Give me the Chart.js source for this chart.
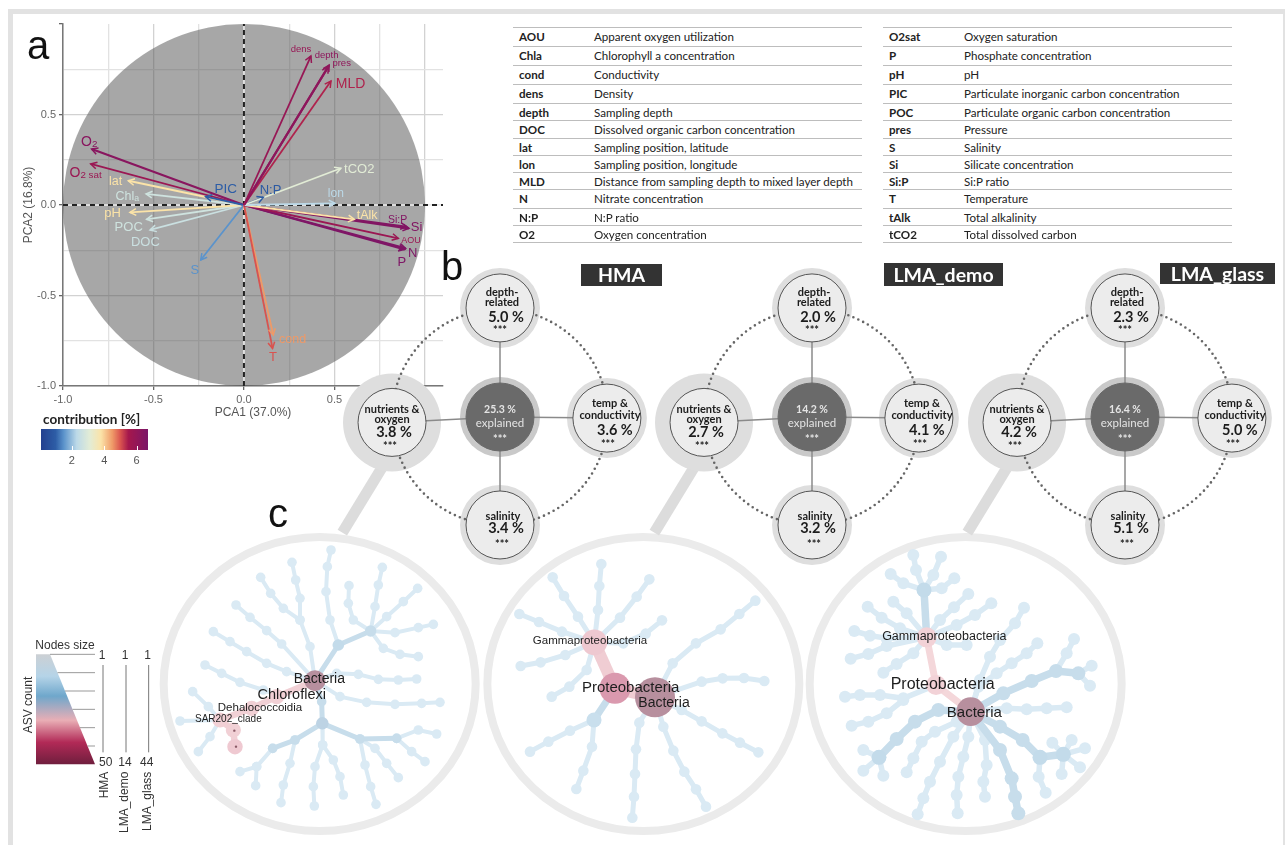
<!DOCTYPE html>
<html>
<head>
<meta charset="utf-8">
<title>PCA and ASV networks</title>
<script src="https://cdn.jsdelivr.net/npm/chart.js@4"></script>
<style>
    html, body { margin: 0; background: #fff; }
    body { position: relative; width: 1285px; height: 845px; overflow: hidden; font-family: Lato, sans-serif; color: #222; }
    canvas, .abs { position: absolute; }
    .frame { background: #e2e2e2; }
    .letter { font-family: "Liberation Sans", sans-serif; font-size: 40px; line-height: 40px; color: #111; }
    .tag { background: #333; color: #fff; font-weight: 700; font-size: 19.5px; text-align: center; }
    .row { border-top: 1.5px solid #bdbdbd; font-size: 11.6px; white-space: nowrap; }
    .row b, .row span { position: absolute; top: 0; line-height: 17px; }
    .row b { left: 6px; }
    .row span { left: 81px; }
</style>
</head>
<body>
<div class="abs frame" style="left:8px;top:9px;width:1277px;height:5px"></div>
<div class="abs frame" style="left:8px;top:9px;width:5px;height:836px"></div>
<div class="abs frame" style="left:1283px;top:9px;width:2px;height:836px"></div>

<canvas id="pcaChart" width="450" height="430" style="left:0;top:0"></canvas>
<canvas id="hmaTree" width="480" height="325" style="left:0;top:520px"></canvas>
<canvas id="demoTree" width="330" height="325" style="left:480px;top:520px"></canvas>
<canvas id="glassTree" width="330" height="325" style="left:800px;top:520px"></canvas>
<canvas id="hmaNet" width="330" height="330" style="left:335px;top:252px"></canvas>
<canvas id="demoNet" width="330" height="330" style="left:647px;top:252px"></canvas>
<canvas id="glassNet" width="330" height="330" style="left:960px;top:252px"></canvas>

<div class="abs letter" style="left:27px;top:25px">a</div>
<div class="abs letter" style="left:441px;top:246px">b</div>
<div class="abs letter" style="left:268px;top:493px">c</div>

<div class="abs tag" style="left:581px;top:264px;width:81px;height:22px;line-height:22px">HMA</div>
<div class="abs tag" style="left:884px;top:263px;width:119px;height:23px;line-height:23px">LMA_demo</div>
<div class="abs tag" style="left:1160px;top:263px;width:115px;height:21px;line-height:21px">LMA_glass</div>

<div class="abs" style="left:43px;top:410px;font-size:13.5px;font-weight:700;line-height:18px">contribution [%]</div>
<div class="abs" id="contribBar" style="left:41px;top:429px;width:107px;height:21px"></div>
<div id="contribTicks"></div>
<div id="glossary"></div>

<script>
// panel a, loadings
const pcaVars = ['dens', 'depth', 'pres', 'MLD', 'tCO2', 'lon', 'tAlk', 'Si:P', 'Si', 'AOU', 'N', 'P', 'T', 'cond', 'S', 'PIC', 'N:P', 'O2', 'O2sat', 'lat', 'Chla', 'pH', 'POC', 'DOC'];
const pca1 = [0.37, 0.471, 0.466, 0.481, 0.536, 0.503, 0.61, 0.899, 0.912, 0.853, 0.893, 0.889, 0.158, 0.162, -0.239, -0.212, 0.107, -0.842, -0.847, -0.639, -0.541, -0.63, -0.538, -0.519];
const pca2 = [0.823, 0.773, 0.764, 0.685, 0.203, 0.009, -0.079, -0.12, -0.129, -0.184, -0.239, -0.245, -0.792, -0.718, -0.304, 0.046, 0.042, 0.309, 0.227, 0.134, 0.061, -0.041, -0.079, -0.138];
const contribution = [5.9, 6.2, 6.1, 5.4, 3.1, 2.3, 3.8, 6.5, 6.5, 5.8, 6.6, 6.6, 5.0, 4.5, 1.5, 1.0, 0.9, 6.3, 5.8, 3.8, 2.7, 3.8, 2.7, 2.6];
const pcaTicks = [-1, -0.75, -0.5, -0.25, 0, 0.25, 0.5, 0.75, 1];
const contribTicks = [2, 4, 6];

// glossary
const leftTerms = ['AOU', 'Chla', 'cond', 'dens', 'depth', 'DOC', 'lat', 'lon', 'MLD', 'N', 'N:P', 'O2'];
const leftNames = ['Apparent oxygen utilization', 'Chlorophyll a concentration', 'Conductivity', 'Density', 'Sampling depth', 'Dissolved organic carbon concentration', 'Sampling position, latitude', 'Sampling position, longitude', 'Distance from sampling depth to mixed layer depth', 'Nitrate concentration', 'N:P ratio', 'Oxygen concentration'];
const rightTerms = ['O2sat', 'P', 'pH', 'PIC', 'POC', 'pres', 'S', 'Si', 'Si:P', 'T', 'tAlk', 'tCO2'];
const rightNames = ['Oxygen saturation', 'Phosphate concentration', 'pH', 'Particulate inorganic carbon concentration', 'Particulate organic carbon concentration', 'Pressure', 'Salinity', 'Silicate concentration', 'Si:P ratio', 'Temperature', 'Total alkalinity', 'Total dissolved carbon'];

// panel b, order is top, left, centre, right, bottom
const nodeNames = ['depth-\nrelated', 'nutrients &\noxygen', 'explained', 'temp &\nconductivity', 'salinity'];
const hmaPercent = ['5.0', '3.8', '25.3', '3.6', '3.4'];
const demoPercent = ['2.0', '2.7', '14.2', '4.1', '3.2'];
const glassPercent = ['2.3', '4.2', '16.4', '5.0', '5.1'];
const nodeX = [0, -1, 0, 0.99, 0];
const nodeY = [1.01, -0.05, 0, -0.01, -1];

// panel c, branches are polylines on the picture grid, hubs are [x, y, ASV count]
const hmaBranches = [
    [[1112, 333], [1125, 260], [1135, 195], [1147, 142]],
    [[1112, 333], [1060, 300], [1045, 250], [1047, 197]],
    [[1112, 333], [1160, 290], [1210, 245], [1253, 205]],
    [[1112, 333], [1185, 338], [1255, 323], [1300, 313]],
    [[1112, 333], [1150, 385], [1200, 403], [1255, 410]],
    [[1015, 375], [990, 300], [978, 215], [982, 140], [993, 90]],
    [[945, 482], [930, 380], [900, 300], [850, 265], [812, 220], [782, 172]],
    [[900, 300], [900, 235], [887, 180], [876, 127]],
    [[945, 482], [845, 372], [800, 332], [750, 292], [708, 255]],
    [[945, 482], [860, 455], [800, 430], [740, 395], [690, 365], [640, 335]],
    [[830, 525], [790, 510], [720, 487], [665, 460], [615, 435]],
    [[660, 600], [625, 560], [578, 515]],
    [[660, 600], [540, 603]],
    [[660, 600], [630, 650], [595, 695]],
    [[945, 482], [1010, 460], [1075, 463], [1135, 478], [1195, 480], [1250, 477]],
    [[945, 482], [1020, 530], [1100, 547], [1185, 553], [1265, 550], [1320, 547]],
    [[818, 685], [770, 740], [720, 755]],
    [[770, 740], [767, 797]],
    [[885, 660], [870, 730], [850, 795], [843, 848]],
    [[967, 610], [968, 675], [945, 740], [940, 800], [943, 858]],
    [[968, 675], [1000, 720], [1020, 770], [1030, 825]],
    [[1190, 655], [1255, 630], [1310, 642]],
    [[1080, 657], [1095, 735], [1112, 800], [1128, 853]],
    [[1080, 657], [1125, 685], [1160, 730], [1195, 773]],
    [[1190, 655], [1235, 695], [1275, 725]]
];
const hmaThick = [
    [[945, 482], [1015, 375], [1112, 333]],
    [[945, 482], [965, 545], [967, 610]],
    [[967, 610], [885, 660], [818, 685]],
    [[967, 610], [1080, 657], [1190, 655]]
];
const hmaHighlight = [
    [[945, 482], [880, 510], [830, 530], [755, 565], [660, 600], [700, 630], [705, 680]]
];
const hmaHubs = [[945, 482, 50], [830, 530, 31], [755, 565, 31], [660, 600, 31], [700, 630, 31], [705, 680, 32], [967, 610, 20], [1015, 375, 16], [1112, 333, 15]];
const hmaTiny = [[703, 632], [708, 680]];
const hmaLabels = ['Bacteria', 'Chloroflexi', 'Dehalococcoidia', 'SAR202_clade'];
const hmaLabelX = [958, 875, 780, 685];
const hmaLabelY = [478, 525, 563, 598];

const demoBranches = [
    [[343, 367], [354, 270], [358, 198], [364, 132]],
    [[343, 367], [294, 290], [252, 228], [218, 172]],
    [[343, 367], [246, 335], [177, 306], [118, 282]],
    [[343, 367], [256, 405], [182, 427], [122, 438]],
    [[343, 367], [320, 450], [268, 500], [215, 530]],
    [[343, 367], [420, 293], [470, 230], [508, 178]],
    [[343, 367], [430, 370], [497, 341], [546, 301]],
    [[525, 532], [578, 430], [648, 370], [722, 328], [778, 282], [826, 242]],
    [[525, 532], [665, 485], [728, 475], [792, 474], [853, 483]],
    [[525, 532], [605, 570], [665, 604], [727, 640], [780, 668], [835, 697]],
    [[525, 532], [550, 620], [580, 692], [613, 755], [648, 808], [678, 860]],
    [[525, 532], [478, 608], [468, 688], [465, 762], [462, 830], [457, 893]],
    [[342, 600], [270, 632], [205, 665], [150, 695]],
    [[342, 600], [336, 680], [310, 752], [289, 807]]
];
const demoThick = [
    [[405, 505], [342, 600]]
];
const demoHighlight = [
    [[343, 367], [405, 505]],
    [[405, 505], [525, 532]]
];
const demoHubs = [[525, 532, 14], [405, 505, 11], [343, 367, 9], [342, 600, 4]];
const demoLabels = ['Gammaproteobacteria', 'Proteobacteria', 'Bacteria'];
const demoLabelX = [330, 452, 552];
const demoLabelY = [362, 505, 550];

const glassBranches = [
    [[372, 210], [348, 150], [340, 105]],
    [[372, 210], [400, 165], [423, 110]],
    [[372, 210], [310, 190], [272, 162]],
    [[372, 210], [425, 205], [463, 175]],
    [[380, 352], [320, 280], [280, 245]],
    [[380, 352], [300, 325], [245, 293], [203, 260]],
    [[380, 352], [260, 355], [210, 347], [163, 333]],
    [[380, 352], [260, 378], [205, 402], [152, 416]],
    [[380, 352], [340, 400], [290, 432], [250, 458]],
    [[380, 352], [420, 300], [462, 262], [505, 222]],
    [[380, 352], [470, 315], [525, 285], [574, 250]],
    [[380, 352], [440, 375], [500, 375]],
    [[408, 495], [310, 535], [240, 525], [180, 525], [135, 530]],
    [[310, 540], [260, 580], [205, 605], [155, 617]],
    [[512, 575], [540, 480], [570, 410], [600, 360], [645, 310], [672, 263]],
    [[512, 575], [535, 500], [590, 460], [635, 430], [680, 400], [712, 370]],
    [[768, 453], [800, 400], [822, 357]],
    [[835, 460], [875, 437]],
    [[835, 460], [870, 497]],
    [[512, 575], [620, 565], [680, 568], [740, 565], [800, 562]],
    [[790, 703], [757, 668]],
    [[790, 703], [815, 660]],
    [[790, 703], [855, 685]],
    [[790, 703], [840, 742]],
    [[790, 703], [785, 762]],
    [[720, 712], [716, 770], [737, 818]],
    [[512, 575], [555, 660], [560, 735], [550, 785], [555, 830]],
    [[512, 575], [505, 650], [490, 710], [475, 770], [470, 825], [473, 880]],
    [[512, 575], [460, 650], [420, 725], [390, 785], [370, 835], [353, 883]],
    [[470, 605], [405, 635], [365, 665], [340, 715], [320, 757]],
    [[237, 712], [190, 690]],
    [[237, 712], [190, 752]],
    [[237, 712], [250, 767]]
];
const glassThick = [
    [[380, 352], [372, 210]],
    [[512, 575], [610, 520], [695, 483], [768, 453], [835, 460]],
    [[512, 575], [600, 620], [668, 660], [720, 712], [790, 703]],
    [[512, 575], [600, 690], [635, 775], [645, 830], [655, 880]],
    [[512, 575], [415, 570], [345, 605], [290, 657], [237, 712]]
];
const glassHighlight = [
    [[380, 352], [408, 495], [512, 575]]
];
const glassHubs = [[512, 575, 44], [408, 495, 27], [380, 352, 27], [372, 210, 14], [790, 703, 14], [720, 712, 14], [237, 712, 14]];
const glassLabels = ['Gammaproteobacteria', 'Proteobacteria', 'Bacteria'];
const glassLabelX = [433, 428, 523];
const glassLabelY = [350, 495, 580];

const maxCounts = [50, 14, 44];
const sampleNames = ['HMA', 'LMA_demo', 'LMA_glass'];

// colour scales of the two legends
const contribStops = [0.1, 1, 1.5, 2.3, 3.1, 3.8, 4.5, 5, 5.5, 6.7];
const contribColors = ['#23408f', '#2d5da6', '#5b93cb', '#bcd9e8', '#e2ecd6', '#fbe3a8', '#ef9a68', '#d9534f', '#a5174c', '#7b1668'];
const sizeStops = [0, 0.2, 0.38, 0.6, 0.8, 1];
const sizeColors = ['#ccd0d4', '#b5d4e8', '#6fa7cb', '#e9aeb5', '#b22a57', '#6f1e3d'];

function hexToRgb(hex) {
    return [1, 3, 5].map(function (i) { return parseInt(hex.substr(i, 2), 16); });
}

function pickColor(stops, colors, value, whiten) {
    let i = 0;
    while (i < stops.length - 2 && value > stops[i + 1]) {
        i++;
    }
    const t = Math.min(1, Math.max(0, (value - stops[i]) / (stops[i + 1] - stops[i])));
    const a = hexToRgb(colors[i]);
    const b = hexToRgb(colors[i + 1]);
    const rgb = a.map(function (c, k) {
        const mixed = c + (b[k] - c) * t;
        return Math.round(mixed + (255 - mixed) * whiten);
    });
    return 'rgb(' + rgb.join(',') + ')';
}

function contribColor(value) {
    return pickColor(contribStops, contribColors, value, 0);
}

function sizeColor(t) {
    return pickColor(sizeStops, sizeColors, t, 0.5);
}

function toPoints(line) {
    return line.map(function (p) { return { x: p[0], y: p[1] }; });
}

Chart.defaults.animation = false;
Chart.defaults.font.family = '"Liberation Sans", sans-serif';
Chart.defaults.plugins.legend.display = false;
Chart.defaults.plugins.tooltip.enabled = false;

function buildGlossary() {
    const rowLines = [27, 46, 65, 84, 103, 120, 138, 155, 172, 189, 208, 225, 242];
    const box = document.getElementById('glossary');
    function addTable(left, terms, names) {
        rowLines.forEach(function (top, i) {
            const row = document.createElement('div');
            row.className = 'abs row';
            row.style.left = left + 'px';
            row.style.top = top + 'px';
            row.style.width = '349px';
            row.style.height = (i < terms.length ? rowLines[i + 1] - top : 0) + 'px';
            if (i < terms.length) {
                const term = document.createElement('b');
                term.textContent = terms[i];
                const name = document.createElement('span');
                name.textContent = names[i];
                row.appendChild(term);
                row.appendChild(name);
            }
            box.appendChild(row);
        });
    }
    addTable(513, leftTerms, leftNames);
    addTable(883, rightTerms, rightNames);
}

function buildContribLegend() {
    const bar = document.getElementById('contribBar');
    const parts = contribStops.map(function (v, i) {
        return contribColors[i] + ' ' + ((v - 0.1) / 6.6 * 100) + '%';
    });
    bar.style.background = 'linear-gradient(to right, ' + parts.join(', ') + ')';
    const box = document.getElementById('contribTicks');
    contribTicks.forEach(function (v) {
        const left = 41 + (v - 0.1) / 6.6 * 107;
        const mark = document.createElement('div');
        mark.className = 'abs';
        mark.style.cssText = 'left:' + left + 'px;top:446px;width:1px;height:4px;background:#fff';
        box.appendChild(mark);
        const label = document.createElement('div');
        label.className = 'abs';
        label.textContent = v;
        label.style.cssText = 'left:' + (left - 10) + 'px;top:454px;width:20px;text-align:center;font:11px "Liberation Sans";color:#555';
        box.appendChild(label);
    });
}

const pcaLabelX = [0.315, 0.457, 0.54, 0.589, 0.637, 0.508, 0.681, 0.849, 0.954, 0.923, 0.932, 0.873, 0.16, 0.269, -0.271, -0.101, 0.147, -0.855, -0.875, -0.709, -0.645, -0.726, -0.637, -0.545];
const pcaLabelY = [0.866, 0.829, 0.786, 0.672, 0.203, 0.07, -0.05, -0.076, -0.12, -0.193, -0.262, -0.313, -0.834, -0.737, -0.354, 0.092, 0.087, 0.355, 0.184, 0.134, 0.053, -0.041, -0.116, -0.199];
const pcaLabelSize = [9.5, 9.5, 9.5, 14, 13, 12, 12.5, 10.5, 13, 9, 13, 13, 13, 12.5, 13, 13.5, 13, 14, 14, 12.5, 12.5, 13, 13, 13];

const pcaPlugin = {
    id: 'pcaExtras',
    beforeDatasetsDraw: function (chart) {
        const ctx = chart.ctx;
        const x = chart.scales.x;
        const y = chart.scales.y;
        const cx = x.getPixelForValue(0);
        const cy = y.getPixelForValue(0);
        ctx.save();
        ctx.fillStyle = 'rgba(80,80,80,0.5)';
        ctx.beginPath();
        ctx.arc(cx, cy, x.getPixelForValue(1) - cx, 0, Math.PI * 2);
        ctx.fill();
        ctx.restore();
    },
    afterDatasetsDraw: function (chart) {
        const ctx = chart.ctx;
        const x = chart.scales.x;
        const y = chart.scales.y;
        const x0 = x.getPixelForValue(0);
        const y0 = y.getPixelForValue(0);
        ctx.save();
        pcaVars.forEach(function (name, i) {
            const color = contribColor(contribution[i]);
            const tipX = x.getPixelForValue(pca1[i]);
            const tipY = y.getPixelForValue(pca2[i]);
            const angle = Math.atan2(tipY - y0, tipX - x0);
            ctx.strokeStyle = color;
            ctx.lineWidth = 1.5;
            ctx.beginPath();
            ctx.moveTo(tipX - 7 * Math.cos(angle - 0.5), tipY - 7 * Math.sin(angle - 0.5));
            ctx.lineTo(tipX, tipY);
            ctx.lineTo(tipX - 7 * Math.cos(angle + 0.5), tipY - 7 * Math.sin(angle + 0.5));
            ctx.stroke();

            // O2 and Chla carry a smaller tail
            let main = name;
            let tail = '';
            if (name === 'O2') { main = 'O'; tail = '2'; }
            if (name === 'O2sat') { main = 'O'; tail = '2 sat'; }
            if (name === 'Chla') { main = 'Chl'; tail = 'a'; }
            const size = pcaLabelSize[i];
            const tailSize = size * 0.7;
            ctx.fillStyle = color;
            ctx.textBaseline = 'alphabetic';
            ctx.textAlign = 'left';
            ctx.font = size + 'px "Liberation Sans"';
            const mainWidth = ctx.measureText(main).width;
            ctx.font = tailSize + 'px "Liberation Sans"';
            const tailWidth = tail ? ctx.measureText(tail).width : 0;
            const left = x.getPixelForValue(pcaLabelX[i]) - (mainWidth + tailWidth) / 2;
            const base = y.getPixelForValue(pcaLabelY[i]) + size * 0.36;
            ctx.font = size + 'px "Liberation Sans"';
            ctx.fillText(main, left, base);
            if (tail) {
                ctx.font = tailSize + 'px "Liberation Sans"';
                ctx.fillText(tail, left + mainWidth, base + 1);
            }
        });
        ctx.restore();
    }
};

function drawPca() {
    const datasets = pcaVars.map(function (name, i) {
        return {
            label: name,
            data: [{ x: 0, y: 0 }, { x: pca1[i], y: pca2[i] }],
            showLine: true,
            pointRadius: 0,
            borderColor: contribColor(contribution[i]),
            borderWidth: contribution[i] > 6 ? 2.2 : 1.8
        };
    });
    // first dataset draws on top, so the dashes go before the white lines
    [false, true].forEach(function (under) {
        const style = {
            showLine: true,
            pointRadius: 0,
            borderColor: under ? '#f4f4f4' : '#222',
            borderWidth: under ? 1.5 : 2,
            borderDash: under ? [] : [5, 4]
        };
        datasets.push(Object.assign({ data: [{ x: -1, y: 0 }, { x: 1.1, y: 0 }] }, style));
        datasets.push(Object.assign({ data: [{ x: 0, y: -1 }, { x: 0, y: 1 }] }, style));
    });

    function gridColor(context) {
        const v = context.tick.value;
        if (v === 1 && context.scale.axis === 'y') {
            return 'transparent';
        }
        return Math.abs(v * 2 % 1) < 1e-6 ? '#d2d2d2' : '#e2e2e2';
    }
    function tickColor(context) {
        return Math.abs(context.tick.value * 2 % 1) < 1e-6 ? '#666' : 'transparent';
    }
    function setTicks(scale) {
        scale.ticks = pcaTicks.map(function (v) { return { value: v }; });
    }
    function tickLabel(v) {
        return Math.abs(v * 2 % 1) < 1e-6 ? v.toFixed(1) : '';
    }
    new Chart(document.getElementById('pcaChart'), {
        type: 'scatter',
        data: { datasets: datasets },
        plugins: [pcaPlugin],
        options: {
            responsive: false,
            layout: { autoPadding: false, padding: { top: 24, right: 7 } },
            scales: {
                x: {
                    min: -1,
                    max: 1.1,
                    afterBuildTicks: setTicks,
                    afterFit: function (scale) { scale.height = 44; },
                    grid: { color: gridColor, tickColor: tickColor, tickLength: 4, lineWidth: 1.3 },
                    border: { color: '#777', width: 1.5 },
                    ticks: { autoSkip: false, maxRotation: 0, padding: 3, color: '#666', font: { size: 11 }, callback: tickLabel },
                    title: { display: true, text: 'PCA1 (37.0%)', color: '#555', font: { size: 12 }, padding: { top: 0, bottom: 10 } }
                },
                y: {
                    min: -1,
                    max: 1,
                    afterBuildTicks: setTicks,
                    afterFit: function (scale) { scale.width = 63; },
                    grid: { color: gridColor, tickColor: tickColor, tickLength: 4, lineWidth: 1.3 },
                    border: { color: '#777', width: 1.5 },
                    ticks: {
                        autoSkip: false,
                        padding: 3,
                        color: '#666',
                        font: { size: 11 },
                        callback: function (v) { return v === 1 ? '' : tickLabel(v); }
                    },
                    title: { display: true, text: 'PCA2 (16.8%)', color: '#555', font: { size: 12 }, padding: { top: 21, bottom: 0 } }
                }
            }
        }
    });
}

function drawNetwork(canvasId, percents) {
    const nodes = nodeX.map(function (x, i) { return { x: x, y: nodeY[i] }; });
    const datasets = [{
        data: nodes,
        showLine: false,
        pointRadius: 34,
        pointBackgroundColor: ['#ececec', '#ececec', '#6a6a6a', '#ececec', '#ececec'],
        pointBorderColor: ['#555', '#555', '#6a6a6a', '#555', '#555'],
        pointBorderWidth: 1
    }];
    nodes.forEach(function (node, i) {
        if (i !== 2) {
            datasets.push({
                data: [{ x: 0, y: 0 }, node],
                showLine: true,
                pointRadius: 0,
                borderColor: '#8a8a8a',
                borderWidth: 1.5
            });
        }
    });
    const ringIndex = datasets.length;
    datasets.push({
        data: nodes,
        showLine: false,
        pointRadius: [40, 49, 40, 40, 40],
        pointBackgroundColor: ['#dedede', '#dedede', '#c9c9c9', '#dedede', '#dedede'],
        pointBorderWidth: 0
    });
    datasets.push({
        data: [{ x: -0.88, y: -0.12 }, { x: -1.46, y: -1.07 }],
        showLine: true,
        pointRadius: 0,
        borderColor: '#dcdcdc',
        borderWidth: 11
    });

    const nameY = [[-15, -5], [-13, -3], [], [-15, -3], [-9]];
    const nameDx = [2, 0, 0, 3, 3];
    const pctY = [9, 10, -7, 12, 3];
    const pctDx = [6, 2, 0, 8, 6];
    const starY = [23, 24, 22, 26, 19];
    const starDx = [0, -2, 0, 1, 2];

    new Chart(document.getElementById(canvasId), {
        type: 'scatter',
        data: { datasets: datasets },
        plugins: [{
            id: 'networkExtras',
            afterDatasetDraw: function (chart, args) {
                if (args.index !== ringIndex) {
                    return;
                }
                const x = chart.scales.x;
                const y = chart.scales.y;
                const ctx = chart.ctx;
                ctx.save();
                ctx.strokeStyle = '#666';
                ctx.lineWidth = 2.6;
                ctx.lineCap = 'round';
                ctx.setLineDash([0, 5.4]);
                ctx.beginPath();
                ctx.arc(x.getPixelForValue(0), y.getPixelForValue(0), x.getPixelForValue(1) - x.getPixelForValue(0), 0, Math.PI * 2);
                ctx.stroke();
                ctx.restore();
            },
            afterDatasetsDraw: function (chart) {
                const x = chart.scales.x;
                const y = chart.scales.y;
                const ctx = chart.ctx;
                ctx.save();
                ctx.textAlign = 'center';
                ctx.textBaseline = 'middle';
                nodes.forEach(function (node, i) {
                    const px = x.getPixelForValue(node.x);
                    const py = y.getPixelForValue(node.y);
                    if (i === 2) {
                        ctx.fillStyle = '#e4e4e4';
                        ctx.font = '700 10.5px Lato';
                        ctx.fillText(percents[i] + ' %', px, py + pctY[i]);
                        ctx.font = '11.5px Lato';
                        ctx.fillText(nodeNames[i], px, py + 6);
                        ctx.font = '700 11px Lato';
                        ctx.fillText('***', px, py + starY[i]);
                        return;
                    }
                    ctx.fillStyle = '#1c1c1c';
                    ctx.font = '700 11px Lato';
                    nodeNames[i].split('\n').forEach(function (line, k) {
                        ctx.fillText(line, px + nameDx[i], py + nameY[i][k]);
                    });
                    ctx.font = '700 14.5px Lato';
                    ctx.fillText(percents[i] + ' %', px + pctDx[i], py + pctY[i]);
                    ctx.font = '700 11px Lato';
                    ctx.fillText('***', px + starDx[i], py + starY[i]);
                });
                ctx.restore();
            }
        }],
        options: {
            responsive: false,
            layout: { autoPadding: false },
            scales: {
                x: { display: false, min: -1.528, max: 1.528 },
                y: { display: false, min: -1.528, max: 1.528 }
            }
        }
    });
}

function drawTree(canvasId, series, look) {
    const datasets = [];
    const thinColor = sizeColor(0.2);
    if (series.tiny) {
        datasets.push({
            data: toPoints(series.tiny),
            showLine: false,
            pointRadius: 1.2,
            pointBorderWidth: 0,
            pointBackgroundColor: '#8a5a66'
        });
    }
    datasets.push({
        data: series.hubs.map(function (h) { return { x: h[0], y: h[1] }; }),
        showLine: false,
        pointRadius: series.hubs.map(function (h) {
            const t = h[2] / look.maxCount;
            return look.tipRadius + (look.rootRadius - look.tipRadius) * Math.pow(t, 1.5);
        }),
        pointBackgroundColor: series.hubs.map(function (h) { return sizeColor(h[2] / look.maxCount); }),
        pointBorderWidth: 0
    });
    series.highlight.forEach(function (line) {
        datasets.push({
            data: toPoints(line),
            showLine: true,
            pointRadius: 0,
            borderColor: sizeColor(look.highlightTone),
            borderWidth: look.highlightWidth
        });
    });
    series.thick.forEach(function (line) {
        datasets.push({
            data: toPoints(line),
            showLine: true,
            pointRadius: look.thickRadius,
            pointBorderWidth: 0,
            pointBackgroundColor: sizeColor(0.3),
            borderColor: sizeColor(0.3),
            borderWidth: look.thickWidth
        });
    });
    series.branches.forEach(function (line) {
        datasets.push({
            data: toPoints(line),
            showLine: true,
            pointRadius: look.tipRadius,
            pointBorderWidth: 0,
            pointBackgroundColor: thinColor,
            borderColor: thinColor,
            borderWidth: look.thinWidth
        });
    });

    new Chart(document.getElementById(canvasId), {
        type: 'scatter',
        data: { datasets: datasets },
        plugins: [{
            id: 'treeExtras',
            beforeDatasetsDraw: function (chart) {
                const x = chart.scales.x;
                const y = chart.scales.y;
                const ctx = chart.ctx;
                ctx.save();
                ctx.strokeStyle = '#ebebeb';
                ctx.lineWidth = 8;
                ctx.beginPath();
                ctx.ellipse(x.getPixelForValue(look.hoopX), y.getPixelForValue(492), 156, 147, 0, 0, Math.PI * 2);
                ctx.stroke();
                ctx.restore();
            },
            afterDatasetsDraw: function (chart) {
                const x = chart.scales.x;
                const y = chart.scales.y;
                const ctx = chart.ctx;
                ctx.save();
                ctx.fillStyle = '#1d1d1d';
                ctx.textAlign = 'center';
                ctx.textBaseline = 'middle';
                series.labels.forEach(function (text, i) {
                    ctx.font = look.labelSizes[i] + 'px "Liberation Sans"';
                    ctx.fillText(text, x.getPixelForValue(series.labelX[i]), y.getPixelForValue(series.labelY[i]));
                });
                ctx.restore();
                if (look.legend) {
                    drawSizeLegend(chart);
                }
            }
        }],
        options: {
            responsive: false,
            layout: { autoPadding: false },
            scales: {
                x: { display: false, min: 0, max: chartWidth(canvasId) },
                y: { display: false, min: 0, max: 975, reverse: true }
            }
        }
    });
}

function chartWidth(canvasId) {
    return document.getElementById(canvasId).width * 3;
}

function drawSizeLegend(chart) {
    const x = chart.scales.x;
    const y = chart.scales.y;
    const ctx = chart.ctx;
    const px = function (v) { return x.getPixelForValue(v); };
    const py = function (v) { return y.getPixelForValue(v); };
    ctx.save();
    const gradient = ctx.createLinearGradient(0, py(403), 0, py(733));
    sizeStops.forEach(function (s, i) { gradient.addColorStop(s, sizeColors[i]); });
    ctx.fillStyle = gradient;
    ctx.beginPath();
    ctx.moveTo(px(108), py(403));
    ctx.lineTo(px(150), py(403));
    ctx.lineTo(px(285), py(733));
    ctx.lineTo(px(108), py(733));
    ctx.closePath();
    ctx.fill();

    ctx.strokeStyle = '#999';
    ctx.lineWidth = 1;
    [403, 458, 513, 568, 623, 678].forEach(function (v) {
        ctx.beginPath();
        ctx.moveTo(px(150 + (v - 403) * 135 / 330), py(v));
        ctx.lineTo(px(285), py(v));
        ctx.stroke();
    });

    ctx.fillStyle = '#333';
    ctx.textAlign = 'center';
    ctx.textBaseline = 'middle';
    ctx.font = '12px "Liberation Sans"';
    ctx.fillText('Nodes size', px(195), py(376));
    [309, 378, 446].forEach(function (v, i) {
        ctx.fillStyle = '#333';
        ctx.fillText('1', px(v - 3), py(406));
        ctx.fillText(String(maxCounts[i]), px(v + [8, -3, -6][i]), py(727));
        ctx.strokeStyle = '#777';
        ctx.beginPath();
        ctx.moveTo(px(v), py(435));
        ctx.lineTo(px(v), py(697));
        ctx.stroke();
        ctx.save();
        ctx.translate(px(v + [4, -3, -3][i]), py(755));
        ctx.rotate(-Math.PI / 2);
        ctx.textAlign = 'right';
        ctx.fillText(sampleNames[i], 0, 0);
        ctx.restore();
    });
    ctx.translate(px(85), py(555));
    ctx.rotate(-Math.PI / 2);
    ctx.fillText('ASV count', 0, 0);
    ctx.restore();
}

document.addEventListener('DOMContentLoaded', function () {
    buildGlossary();
    buildContribLegend();
    drawPca();

    drawTree('hmaTree', {
        branches: hmaBranches, thick: hmaThick, highlight: hmaHighlight, hubs: hmaHubs, tiny: hmaTiny,
        labels: hmaLabels, labelX: hmaLabelX, labelY: hmaLabelY
    }, {
        maxCount: maxCounts[0], tipRadius: 4.8, thickRadius: 4.8, rootRadius: 10.5, thinWidth: 4, thickWidth: 5, highlightWidth: 6.5, highlightTone: 0.62,
        hoopX: 959, labelSizes: [14, 14.5, 11.5, 10], legend: true
    });
    drawTree('demoTree', {
        branches: demoBranches, thick: demoThick, highlight: demoHighlight, hubs: demoHubs,
        labels: demoLabels, labelX: demoLabelX, labelY: demoLabelY
    }, {
        maxCount: maxCounts[1], tipRadius: 5.3, thickRadius: 5.3, rootRadius: 20, thinWidth: 5, thickWidth: 7, highlightWidth: 12, highlightTone: 0.63,
        hoopX: 490, labelSizes: [11.5, 15, 14], legend: false
    });
    drawTree('glassTree', {
        branches: glassBranches, thick: glassThick, highlight: glassHighlight, hubs: glassHubs,
        labels: glassLabels, labelX: glassLabelX, labelY: glassLabelY
    }, {
        maxCount: maxCounts[2], tipRadius: 6, thickRadius: 7, rootRadius: 14.3, thinWidth: 5.5, thickWidth: 7.5, highlightWidth: 7, highlightTone: 0.6,
        hoopX: 497, labelSizes: [12.5, 16, 15], legend: false
    });

    drawNetwork('hmaNet', hmaPercent);
    drawNetwork('demoNet', demoPercent);
    drawNetwork('glassNet', glassPercent);
});
</script>
</body>
</html>
